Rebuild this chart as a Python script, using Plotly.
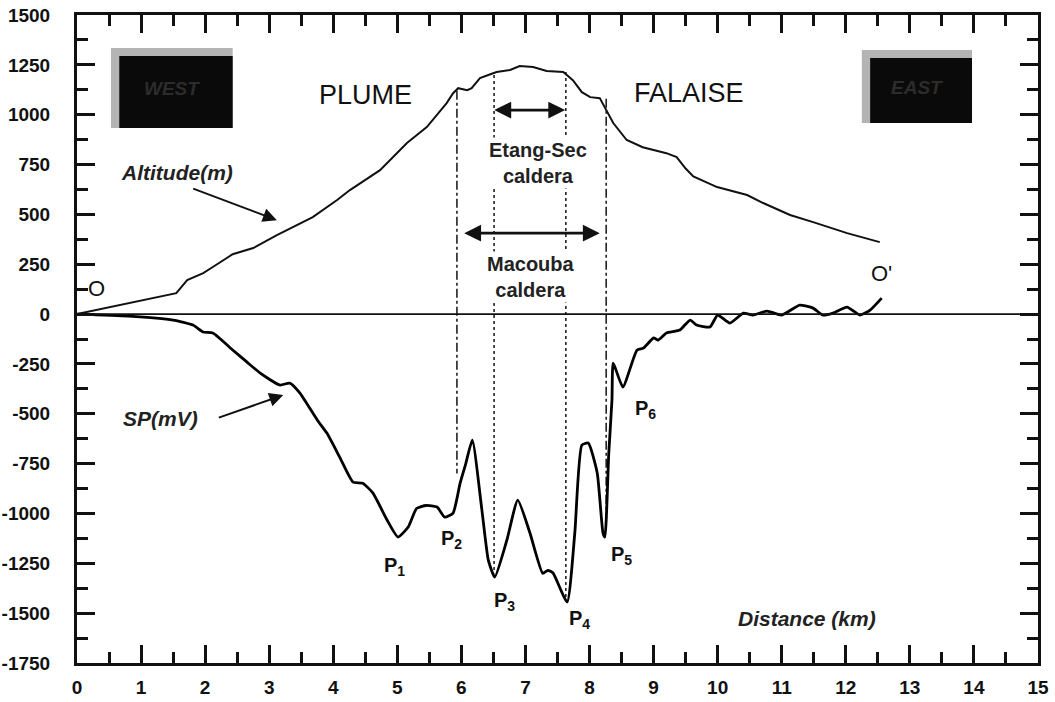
import plotly.graph_objects as go

# ---------------- data ----------------
alt_x = [0, 1.55, 1.72, 1.97, 2.12, 2.43, 2.75, 3.12, 3.68, 4.06, 4.26, 4.73, 5.15, 5.46, 5.77,
         5.87, 5.95, 6.09, 6.16, 6.29, 6.42, 6.55, 6.76, 6.91, 7.12, 7.33, 7.59, 7.74, 7.88,
         8.01, 8.16, 8.24, 8.37, 8.58, 8.83, 9.2, 9.36, 9.5, 9.62, 9.99, 10.46, 10.71, 11.13,
         11.49, 12.02, 12.53]
alt_y = [0, 105, 170, 205, 236, 300, 331, 396, 486, 572, 622, 722, 858, 938, 1058,
         1108, 1133, 1123, 1133, 1184, 1199, 1214, 1224, 1244, 1239, 1219, 1214, 1173, 1113,
         1088, 1083, 1033, 958, 873, 837, 807, 787, 730, 690, 637, 597, 557, 497,
         461, 406, 361]

sp_x = [0, 0.8, 1.5, 1.81, 1.97, 2.12, 2.43, 2.65, 2.86, 3.17, 3.32, 3.48, 3.75, 3.9, 4.1,
        4.31, 4.46, 4.62, 4.84, 5.01, 5.17, 5.3, 5.45, 5.62, 5.74, 5.87, 5.98, 6.06, 6.17,
        6.32, 6.42, 6.52, 6.71, 6.88, 7.07, 7.27, 7.35, 7.43, 7.65, 7.77, 7.88, 7.98, 8.12,
        8.21, 8.24, 8.30, 8.35, 8.37, 8.52, 8.74, 8.84, 9.0, 9.07, 9.2, 9.41, 9.57, 9.67,
        9.88, 10.0, 10.19, 10.4, 10.55, 10.77, 11.0, 11.28, 11.49, 11.64, 11.8, 12.02, 12.22,
        12.38, 12.56]
sp_y = [0, -10, -30, -55, -90, -95, -180, -240, -296, -356, -346, -396, -531, -597, -717,
        -843, -848, -898, -1033, -1118, -1068, -975, -960, -968, -1018, -998, -848, -760, -632,
        -983, -1234, -1319, -1133, -933, -1098, -1300, -1285, -1299, -1444, -1098, -657, -647, -797,
        -1098, -1118, -700, -431, -246, -366, -181, -171, -120, -130, -95, -80, -30, -55,
        -65, -5, -45, 5, -5, 15, -5, 45, 30, -5, 5, 35, -5,
        20, 80]

vline_x = [5.93, 6.51, 7.63, 8.26]
vline_top = [1120, 1199, 1214, 1080]
vline_bottom = [-800, -1300, -1420, -1020]
vline_dash = ["dashdot", "dot", "dot", "dashdot"]

x_ticks = list(range(0, 16))
y_ticks = list(range(-1750, 1501, 250))

FONT = "Liberation Sans"

fig = go.Figure()

# vertical boundary lines
for xv, yt, yb, d in zip(vline_x, vline_top, vline_bottom, vline_dash):
    fig.add_trace(go.Scatter(x=[xv, xv], y=[yt, yb], mode="lines",
                             line=dict(color="#222", width=1.6, dash=d),
                             showlegend=False, hoverinfo="skip"))

fig.add_trace(go.Scatter(x=alt_x, y=alt_y, mode="lines",
                         line=dict(color="#111", width=2), showlegend=False))
fig.add_trace(go.Scatter(x=sp_x, y=sp_y, mode="lines",
                         line=dict(color="#000", width=2.8, shape="spline", smoothing=0.5),
                         showlegend=False))

shapes = []
# zero line
shapes.append(dict(type="line", xref="x", yref="y", x0=0, x1=15, y0=0, y1=0,
                   line=dict(color="#111", width=1.8)))
# WEST / EAST bevel boxes
for (x0, x1, yt, yb, xi, yi) in [(0.53, 2.43, 1334, 933, 0.66, 1294),
                                 (12.25, 13.97, 1324, 958, 12.38, 1284)]:
    shapes.append(dict(type="rect", xref="x", yref="y", x0=x0, x1=x1, y0=yb, y1=yt,
                       fillcolor="#b4b4b4", line=dict(width=0), layer="above"))
    shapes.append(dict(type="rect", xref="x", yref="y", x0=xi, x1=x1, y0=yb, y1=yi,
                       fillcolor="#0a0a0a", line=dict(width=0), layer="above"))

ann = []
def txt(x, y, s, size, bold=False, italic=False, bg=None, color="#111"):
    if bold:
        s = "<b>" + s + "</b>"
    if italic:
        s = "<i>" + s + "</i>"
    d = dict(x=x, y=y, xref="x", yref="y", text=s, showarrow=False,
             font=dict(family=FONT, size=size, color=color))
    if bg:
        d["bgcolor"] = bg
    ann.append(d)

txt(1.48, 1133, "WEST", 19, bold=True, italic=True, color="#2c2c2c")
txt(13.11, 1138, "EAST", 19, bold=True, italic=True, color="#2c2c2c")
txt(4.5, 1098, "PLUME", 27)
txt(9.55, 1108, "FALAISE", 27)
txt(7.2, 757, "Etang-Sec<br>caldera", 20, bold=True, bg="white", color="#222")
txt(7.09, 186, "Macouba<br>caldera", 20, bold=True, bg="white", color="#222")
txt(1.56, 712, "Altitude(m)", 21, bold=True, italic=True, color="#222")
txt(1.3, -522, "SP(mV)", 21, bold=True, italic=True, color="#222")
txt(11.39, -1525, "Distance (km)", 21, bold=True, italic=True, color="#222")
txt(0.31, 130, "O", 22)
txt(12.56, 206, "O'", 22)
p_pos = [(4.95, -1264), (5.85, -1133), (6.68, -1444), (7.85, -1530), (8.5, -1209), (8.87, -481)]
for i, (px, py) in enumerate(p_pos):
    txt(px, py, "P<sub>%d</sub>" % (i + 1), 20, bold=True, color="#111")

# arrows to curve labels
for (tx, ty, hx, hy) in [(1.79, 632, 3.12, 471), (2.19, -522, 3.22, -406)]:
    ann.append(dict(x=hx, y=hy, ax=tx, ay=ty, xref="x", yref="y", axref="x", ayref="y",
                    text="", showarrow=True, arrowhead=2, arrowsize=1.4, arrowwidth=2,
                    arrowcolor="#111", standoff=0))
# double arrows for calderas
for (xa, xb, yv) in [(6.49, 7.62, 1023), (6.02, 8.16, 406)]:
    ann.append(dict(x=xb, y=yv, ax=xa, ay=yv, xref="x", yref="y", axref="x", ayref="y",
                    text="", showarrow=True, arrowhead=2, startarrowhead=2, arrowside="end+start",
                    arrowsize=1.3, startarrowsize=1.3, arrowwidth=2.6,
                    arrowcolor="#111", standoff=0, startstandoff=0))

axis_common = dict(showline=True, linewidth=3, linecolor="#111", mirror="ticks",
                   ticks="inside", ticklen=18, tickwidth=2.5, tickcolor="#111",
                   showgrid=False, zeroline=False, automargin=False,
                   tickfont=dict(family=FONT, size=19, color="#111", weight="bold"))

fig.update_xaxes(range=[0, 15], tickvals=x_ticks, ticktext=[str(v) for v in x_ticks],
                 minor=dict(dtick=0.5, tick0=0, ticks="inside", ticklen=11, tickwidth=2.5,
                            tickcolor="#111"),
                 ticklabelstandoff=5, **axis_common)
fig.update_yaxes(range=[-1750, 1500], tickvals=y_ticks, ticktext=[str(v) for v in y_ticks],
                 minor=dict(dtick=125, tick0=0, ticks="inside", ticklen=11, tickwidth=2.5,
                            tickcolor="#111"),
                 ticklabelstandoff=20, **axis_common)

fig.update_layout(width=1055, height=702, margin=dict(l=77, r=17, t=15, b=39),
                  plot_bgcolor="white", paper_bgcolor="white",
                  shapes=shapes, annotations=ann, showlegend=False)

fig.write_html("out.html")
